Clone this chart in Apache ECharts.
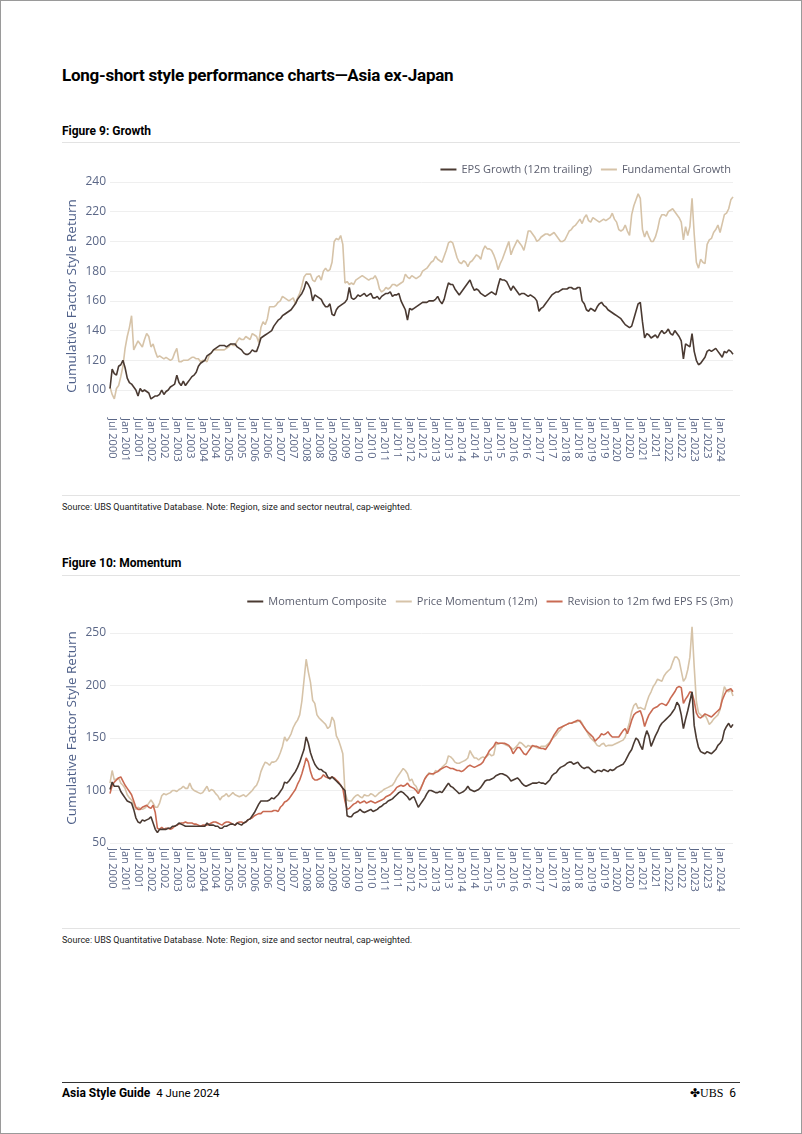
<!DOCTYPE html>
<html>
<head>
<meta charset="utf-8">
<script src="https://cdn.jsdelivr.net/npm/echarts@6/dist/echarts.min.js"></script>
<style>
  html, body { margin: 0; padding: 0; background: #fff; }
  body { width: 802px; height: 1134px; position: relative; overflow: hidden; font-family: Roboto, "Open Sans", sans-serif; }
  .frame { position: absolute; left: 0; top: 0; width: 800px; height: 1132px; border: 1px solid #9a9a9a; }
  .t { position: absolute; white-space: nowrap; line-height: 1; color: #000; }
  .rule { position: absolute; left: 62px; width: 678px; height: 1px; background: #e3e3e3; }
  #c1 { position: absolute; left: 0; top: 150px; width: 802px; height: 340px; }
  #c2 { position: absolute; left: 0; top: 585px; width: 802px; height: 330px; }
</style>
</head>
<body>
<div class="frame"></div>
<div class="t" style="left:62px;top:67px;font-size:17px;font-weight:700;letter-spacing:-0.25px;">Long-short style performance charts—Asia ex-Japan</div>
<div class="t" style="left:62px;top:125px;font-size:12px;font-weight:700;">Figure 9: Growth</div>
<div class="rule" style="top:142px;"></div>
<div id="c1"></div>
<div class="rule" style="top:495px;"></div>
<div class="t" style="left:62px;top:503px;font-size:9px;color:#222;">Source: UBS Quantitative Database. Note: Region, size and sector neutral, cap-weighted.</div>
<div class="t" style="left:62px;top:557px;font-size:12px;font-weight:700;">Figure 10: Momentum</div>
<div class="rule" style="top:575px;"></div>
<div id="c2"></div>
<div class="rule" style="top:928px;"></div>
<div class="t" style="left:62px;top:936px;font-size:9px;color:#222;">Source: UBS Quantitative Database. Note: Region, size and sector neutral, cap-weighted.</div>
<div class="rule" style="top:1082px;background:#333;"></div>
<div class="t" style="left:62px;top:1087px;font-size:12px;"><b>Asia Style Guide</b>&nbsp;&nbsp;<span style="font-size:11.5px;">4 June 2024</span></div>
<div class="t" style="left:690px;top:1087px;font-size:12px;font-family:'Liberation Serif',serif;">✤UBS&nbsp;&nbsp;<span style="font-family:Roboto,sans-serif;">6</span></div>
<script>
// ---- categories: monthly, Jun 2000 .. Jul 2024 ----
const MONTHS = ['Jan','Feb','Mar','Apr','May','Jun','Jul','Aug','Sep','Oct','Nov','Dec'];
const categories = [];
for (let y = 2000, m = 5; y < 2024 || (y === 2024 && m <= 6); ) {
  categories.push(MONTHS[m] + ' ' + y);
  m++; if (m === 12) { m = 0; y++; }
}

// ---- Figure 9: Growth ----
const epsGrowth = [
101,114,111,110,116,117,120,115,108,105,104,102,100,96,101,99,100,99,98,94,
95,96,96,97,100,97,99,100,102,103,104,110,105,103,106,103,105,107,109,110,
112,116,118,119,120,123,124,125,127,128,129,130,130,130,129,130,131,131,131,129,
128,127,125,124,124,125,127,126,126,130,135,136,137,138,139,140,143,145,147,148,
150,151,152,153,154,156,158,161,163,165,168,173,171,168,160,164,163,162,161,158,
156,156,158,151,150,154,156,157,158,159,161,169,162,161,162,164,163,164,165,163,
164,165,162,162,163,161,163,164,165,165,166,163,164,164,165,160,157,154,147,155,
154,155,156,157,158,159,159,159,160,160,160,161,163,160,158,161,167,172,171,171,
168,166,164,166,168,170,172,174,170,167,168,167,165,164,163,164,165,166,165,164,
170,175,174,174,173,170,167,170,168,166,164,165,165,164,163,164,163,162,160,153,
155,156,158,160,162,164,165,166,166,167,168,168,168,169,169,168,168,169,169,160,
158,154,153,155,154,153,156,158,159,157,156,154,153,152,151,150,149,148,146,144,
143,142,143,148,153,158,159,146,135,138,137,135,136,137,135,138,140,138,139,141,
138,137,140,138,136,133,121,131,130,129,138,126,120,117,118,120,122,126,127,126,
127,128,126,124,122,126,125,127,126,124
];
const fundamentalGrowth = [
102,97,94,101,103,109,116,128,136,142,150,127,130,133,131,129,134,138,136,129,
131,126,122,123,122,121,122,121,120,121,125,128,119,119,120,120,120,121,122,122,
121,121,119,120,120,119,123,125,127,127,127,127,127,127,128,129,131,130,130,133,
135,134,134,136,135,134,138,137,136,132,142,146,144,148,156,156,156,157,159,160,
163,162,161,160,161,162,158,162,165,170,176,178,178,178,174,173,176,177,174,180,
182,180,181,186,200,202,201,204,198,172,173,171,172,171,174,175,176,177,176,175,
174,175,175,177,174,168,166,167,169,168,169,171,171,170,171,172,173,178,176,175,
177,176,175,176,177,180,181,182,184,186,187,190,188,187,186,190,194,199,200,199,
194,189,186,185,187,186,183,186,187,189,191,190,188,194,197,195,195,194,191,187,
181,185,188,192,196,200,191,195,198,201,199,197,194,200,207,207,205,203,200,201,
203,204,205,205,204,205,206,204,202,200,200,201,204,207,208,210,211,213,215,212,
216,218,214,213,216,215,214,213,214,215,214,215,216,219,215,213,208,207,208,211,
207,204,218,224,228,232,229,208,203,207,203,200,200,203,208,215,218,218,217,220,
221,222,220,218,216,213,201,210,204,210,229,205,186,182,188,186,185,198,201,202,
206,208,211,206,212,218,219,222,228,230
];

// ---- Figure 10: Momentum ----
const momentumComposite = [
101,108,104,104,104,99,96,93,90,89,88,82,74,70,69,72,71,72,73,75,
69,63,60,63,63,63,63,64,64,66,66,67,69,68,67,66,66,66,66,66,
66,66,66,66,66,69,67,67,67,66,66,64,64,66,66,67,68,68,67,69,
68,67,69,70,72,73,76,79,83,87,90,90,90,90,91,93,92,94,96,99,
102,108,107,109,112,115,118,122,127,133,139,151,145,136,130,125,122,120,120,118,
117,113,111,113,111,109,107,105,102,100,76,75,75,78,79,80,82,80,79,80,
81,82,80,81,82,84,85,87,88,90,91,92,94,96,98,99,98,96,94,91,
93,94,89,84,87,90,93,97,100,100,99,98,98,99,98,101,104,107,104,103,
101,99,97,98,99,101,104,101,100,99,100,101,103,106,109,110,110,111,112,114,
115,116,116,115,114,112,109,110,111,112,110,107,105,104,105,106,107,107,107,108,
107,107,106,108,110,114,116,117,120,122,123,124,126,127,127,125,126,127,124,122,
121,122,122,120,118,117,119,119,118,120,119,118,120,119,120,122,123,124,125,128,
132,136,139,145,150,148,143,139,150,157,152,142,147,152,156,161,164,166,168,170,
172,175,178,184,181,172,159,168,176,185,194,162,150,141,137,136,135,137,136,135,
137,139,143,145,148,157,161,164,160,163
];
const priceMomentum = [
107,119,110,111,112,107,105,102,96,93,91,87,82,84,83,82,83,85,88,91,
88,84,84,88,95,97,96,97,98,100,100,99,101,102,104,102,102,107,102,100,
99,98,97,98,101,104,99,101,100,97,95,91,94,95,97,94,96,98,96,95,
94,95,96,94,96,98,100,103,105,110,118,123,127,126,124,127,127,128,131,136,
142,151,147,150,154,160,164,167,172,185,205,225,213,203,186,183,172,169,167,165,
163,159,161,170,166,152,148,142,135,99,91,90,90,93,95,96,94,93,96,95,
95,97,96,94,96,98,99,101,102,103,104,105,108,112,115,118,121,119,116,109,
111,106,104,99,102,106,111,114,117,116,115,119,118,119,122,124,126,133,132,130,
127,126,126,127,128,129,131,138,134,131,131,129,131,132,131,133,135,133,134,144,
144,145,145,144,143,142,141,139,141,143,146,145,143,141,143,142,142,142,141,140,
142,142,142,144,146,149,151,153,156,158,161,162,163,164,164,165,165,166,167,164,
160,157,153,150,148,146,143,142,144,145,142,143,143,143,144,145,146,147,148,151,
158,165,175,181,183,178,179,178,177,184,190,194,199,202,206,205,204,209,212,214,
216,222,227,227,224,214,204,207,215,227,256,218,185,174,172,170,172,168,163,165,
168,170,172,177,189,199,195,194,196,190
];
const revisionEps = [
97,105,108,110,112,113,109,105,102,99,96,90,84,82,82,84,85,86,84,83,
86,79,64,63,65,63,64,64,63,64,66,67,68,69,69,70,69,69,69,68,
68,67,66,67,67,67,68,69,70,70,69,68,67,69,70,70,69,68,67,69,
70,70,69,70,72,73,74,76,77,78,78,80,80,80,80,80,81,81,80,84,
86,89,90,92,95,98,101,106,110,116,123,131,127,118,112,110,110,111,112,115,
113,112,112,113,112,110,108,105,102,90,82,83,85,87,88,90,88,89,90,88,
89,90,89,88,89,90,91,92,94,95,96,98,100,103,104,105,104,105,107,104,
103,102,100,97,101,106,111,114,116,116,116,117,118,120,121,122,123,122,121,121,
120,119,119,118,119,121,123,124,123,122,123,124,125,127,131,134,138,140,142,146,
145,145,145,145,144,143,140,135,138,141,141,138,135,134,137,140,143,142,142,141,
140,140,139,142,145,149,153,156,159,160,161,162,163,164,164,165,166,167,166,163,
160,157,155,153,151,147,149,151,154,153,154,156,153,151,151,151,151,154,157,159,
154,160,167,172,174,175,176,170,161,167,172,175,178,179,180,182,183,182,181,184,
188,191,194,198,199,198,183,187,190,194,193,185,174,170,169,171,173,172,171,170,
172,174,176,178,186,191,195,196,197,194
];

// ---- axis ticks ----
const growthTicks = { min: 100, max: 240, step: 20 };
const momentumTicks = { min: 50, max: 250, step: 50 };

const COLORS = { dark: '#4a3a32', beige: '#d6c3a8', red: '#c96a52' };
const AXIS_TXT = '#5b6787';
const FONT = '"Open Sans", sans-serif';

function xAxis() {
  return {
    type: 'category', data: categories, boundaryGap: false,
    axisLine: { show: false }, axisTick: { show: false }, splitLine: { show: false },
    axisLabel: {
      rotate: -90, fontSize: 11, color: AXIS_TXT, fontFamily: FONT, margin: 0,
      interval: (i) => i % 6 === 1 && i < categories.length - 1
    }
  };
}
function yAxis(t) {
  return {
    type: 'value', min: t.min, max: t.max, interval: t.step,
    axisLine: { show: false }, axisTick: { show: false },
    axisLabel: { fontSize: 12, color: AXIS_TXT, fontFamily: FONT, margin: 4 },
    splitLine: { lineStyle: { color: '#efefef', width: 1 } }
  };
}
function line(name, data, color) {
  return { name, type: 'line', data, showSymbol: false, clip: false, animation: false,
    lineStyle: { color, width: 1.6 }, itemStyle: { color } };
}
function yTitle(cx, cy) {
  return [{ type: 'text', x: cx, y: cy, rotation: Math.PI / 2,
    style: { text: 'Cumulative Factor Style Return', fill: '#4f6089', fontSize: 13.5, fontFamily: FONT,
      align: 'center', verticalAlign: 'middle' } }];
}
const legendBase = { icon: 'rect', itemWidth: 16, itemHeight: 2, itemGap: 9, padding: 0,
  textStyle: { fontSize: 11, color: '#5d6070', fontFamily: FONT } };

const c1 = echarts.init(document.getElementById('c1'), null, { renderer: 'canvas' });
const x1 = xAxis(); x1.axisLabel.margin = 28;
c1.setOption({
  animation: false,
  grid: { left: 110, right: 69, top: 32, height: 208 },
  legend: Object.assign({}, legendBase, { right: 71, top: 14, data: ['EPS Growth (12m trailing)', 'Fundamental Growth'] }),
  xAxis: x1,
  yAxis: yAxis(growthTicks),
  graphic: yTitle(72, 146),
  series: [
    line('Fundamental Growth', fundamentalGrowth, COLORS.beige),
    line('EPS Growth (12m trailing)', epsGrowth, COLORS.dark)
  ]
});

const c2 = echarts.init(document.getElementById('c2'), null, { renderer: 'canvas' });
const x2 = xAxis(); x2.axisLabel.margin = 5;
c2.setOption({
  animation: false,
  grid: { left: 110, right: 69, top: 48, height: 210 },
  legend: Object.assign({}, legendBase, { right: 69, top: 11, data: ['Momentum Composite', 'Price Momentum (12m)', 'Revision to 12m fwd EPS FS (3m)'] }),
  xAxis: x2,
  yAxis: yAxis(momentumTicks),
  graphic: yTitle(72, 143),
  series: [
    line('Price Momentum (12m)', priceMomentum, COLORS.beige),
    line('Revision to 12m fwd EPS FS (3m)', revisionEps, COLORS.red),
    line('Momentum Composite', momentumComposite, COLORS.dark)
  ]
});
</script>
</body>
</html>
